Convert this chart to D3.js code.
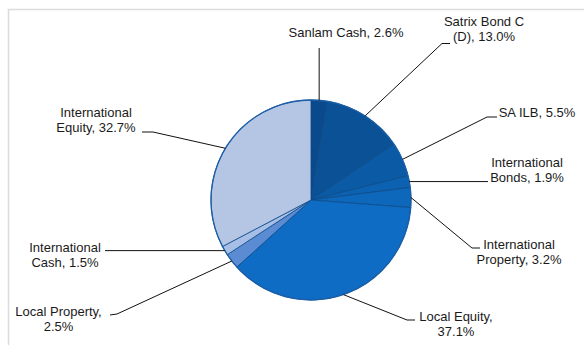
<!DOCTYPE html>
<html>
<head>
<meta charset="utf-8">
<script src="https://cdn.jsdelivr.net/npm/d3@7"></script>
<style>
  html, body { margin: 0; padding: 0; background: #fff; }
  svg { display: block; }
  text { font-family: "Liberation Sans", Arial, sans-serif; font-size: 13px; fill: #1a1a1a; }
</style>
</head>
<body>
<svg id="chart" width="584" height="345"></svg>
<script>
// Portfolio allocation, clockwise from 12 o'clock
const categories = [
  "Sanlam Cash", "Satrix Bond C (D)", "SA ILB", "International Bonds",
  "International Property", "Local Equity", "Local Property",
  "International Cash", "International Equity"
];
const values = [2.6, 13.0, 5.5, 1.9, 3.2, 37.1, 2.5, 1.5, 32.7];

// Label text lines for each slice
const labelLines = [
  ["Sanlam Cash, 2.6%"],
  ["Satrix Bond C", "(D), 13.0%"],
  ["SA ILB, 5.5%"],
  ["International", "Bonds, 1.9%"],
  ["International", "Property, 3.2%"],
  ["Local Equity,", "37.1%"],
  ["Local Property,", "2.5%"],
  ["International", "Cash, 1.5%"],
  ["International", "Equity, 32.7%"]
];

const colors = [
  "#0a4a8c", "#0a5295", "#0b5aa5", "#0c61b1", "#0d67bb",
  "#0f6cc5", "#5a8bd3", "#a7bfe7", "#b5c6e5"
];

// Label layout: elbow point of the leader, end of the short tick, text centre & first baseline
const labelLayout = [
  { elbow: [null, 48],  tick: null,        tx: 346, ty: 36.5 },
  { elbow: [442, 43.5], tick: [450, 43.5], tx: 484, ty: 26 },
  { elbow: [487, 117],  tick: [497, 117],  tx: 537, ty: 116.5 },
  { elbow: [488, null], tick: null,        tx: 527, ty: 167 },
  { elbow: [472, 248],  tick: [480, 248],  tx: 519, ty: 249 },
  { elbow: [407, 320],  tick: [415, 320],  tx: 456, ty: 321 },
  { elbow: [117, 314],  tick: [110, 315],  tx: 58.5, ty: 316 },
  { elbow: [105, null], tick: null,        tx: 65,  ty: 252 },
  { elbow: [153, 132],  tick: [142, 132],  tx: 96,  ty: 117 }
];

const svg = d3.select("#chart");
const cx = 311, cy = 200, r = 100;

// Light frame along the top and left
svg.append("path")
  .attr("d", "M8.5,345 L8.5,9.5 L584,9.5")
  .attr("fill", "none")
  .attr("stroke", "#dcdcdc")
  .attr("stroke-width", 1.6);

const pie = d3.pie().sort(null).value(d => d)(values);
const arc = d3.arc().innerRadius(0).outerRadius(r);
const g = svg.append("g").attr("transform", `translate(${cx},${cy})`);

g.selectAll("path.slice")
  .data(pie)
  .join("path")
  .attr("class", "slice")
  .attr("d", arc)
  .attr("fill", (d, i) => colors[i])
  .attr("stroke", "#0b4a86")
  .attr("stroke-width", 0.8)
  .attr("stroke-linejoin", "round");

// Outer rim
g.append("circle")
  .attr("r", r)
  .attr("fill", "none")
  .attr("stroke", "#1c5fa8")
  .attr("stroke-width", 1.3);

// Leader lines
const leaders = svg.append("g")
  .attr("fill", "none")
  .attr("stroke", "#111")
  .attr("stroke-width", 1);

pie.forEach((d, i) => {
  const mid = (d.startAngle + d.endAngle) / 2;
  const sx = cx + r * Math.sin(mid);
  const sy = cy - r * Math.cos(mid);
  const L = labelLayout[i];
  const ex = L.elbow[0] === null ? sx : L.elbow[0];
  const ey = L.elbow[1] === null ? sy : L.elbow[1];
  const pts = [[sx, sy], [ex, ey]];
  if (L.tick) pts.push(L.tick);
  leaders.append("path").attr("d", d3.line()(pts));
});

// Labels
const labels = svg.append("g").attr("text-anchor", "middle");
labelLines.forEach((lines, i) => {
  const L = labelLayout[i];
  const t = labels.append("text").attr("x", L.tx).attr("y", L.ty);
  lines.forEach((line, j) => {
    t.append("tspan")
      .attr("x", L.tx)
      .attr("dy", j === 0 ? 0 : 15)
      .text(line);
  });
});
</script>
</body>
</html>
